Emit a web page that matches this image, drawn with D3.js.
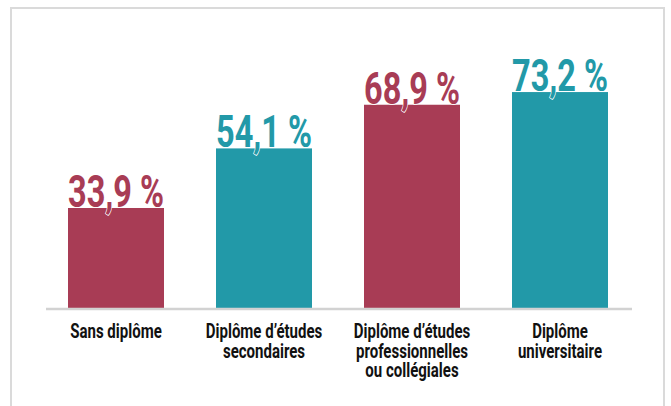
<!DOCTYPE html>
<html>
<head>
<meta charset="utf-8">
<script src="https://cdn.jsdelivr.net/npm/d3@7"></script>
<style>
  html, body { margin: 0; padding: 0; background: #fff; }
  svg { display: block; }
</style>
</head>
<body>
<svg id="chart" width="671" height="406"></svg>
<script>
const categories = [
  "Sans diplôme",
  "Diplôme d’études\nsecondaires",
  "Diplôme d’études\nprofessionnelles\nou collégiales",
  "Diplôme\nuniversitaire"
];
const values = [33.9, 54.1, 68.9, 73.2];
const valueLabels = ["33,9 %", "54,1 %", "68,9 %", "73,2 %"];
const barColors = ["#a83c55", "#2299a8", "#a83c55", "#2299a8"];

const svg = d3.select("#chart");
const W = 671, H = 406;

// frame
svg.append("rect")
  .attr("x", 11).attr("y", 8)
  .attr("width", 653).attr("height", 420)
  .attr("fill", "#fff")
  .attr("stroke", "#dadada").attr("stroke-width", 2);

const step = 148, bw = 96;
const pInner = (step - bw) / step;
const x = d3.scaleBand()
  .domain(categories)
  .range([68 - (step - bw) / 2, 608 + (step - bw) / 2])
  .paddingInner(pInner)
  .paddingOuter(pInner / 2);

const y = d3.scaleLinear().domain([0, 100]).range([308, 13]);

// bars
svg.append("g").selectAll("rect")
  .data(values)
  .join("rect")
  .attr("x", (d, i) => x(categories[i]))
  .attr("y", d => y(d))
  .attr("width", x.bandwidth())
  .attr("height", d => y(0) - y(d))
  .attr("fill", (d, i) => barColors[i]);

// baseline
svg.append("line")
  .attr("x1", 46).attr("x2", 632)
  .attr("y1", y(0) + 1).attr("y2", y(0) + 1)
  .attr("stroke", "#d2d2d2").attr("stroke-width", 2.5);

// value labels
svg.append("g").selectAll("text")
  .data(values)
  .join("text")
  .attr("x", (d, i) => x(categories[i]))
  .attr("y", d => y(d) - 1)
  .attr("textLength", x.bandwidth())
  .attr("lengthAdjust", "spacingAndGlyphs")
  .attr("font-family", "Roboto, 'DejaVu Sans Condensed', sans-serif")
  .attr("font-weight", 700)
  .attr("font-size", 44)
  .attr("fill", (d, i) => barColors[i])
  .attr("stroke", "#fff")
  .attr("stroke-width", 1.6)
  .attr("paint-order", "stroke")
  .text((d, i) => valueLabels[i]);

// category labels
const sx = 0.77;
const catG = svg.append("g");
categories.forEach((c, i) => {
  const cx = x(c) + x.bandwidth() / 2;
  const g = catG.append("g")
    .attr("transform", `translate(${cx},338) scale(${sx},1)`);
  c.split("\n").forEach((line, j) => {
    g.append("text")
      .attr("x", 0)
      .attr("y", j * 19.6)
      .attr("text-anchor", "middle")
      .attr("font-family", "Roboto, 'DejaVu Sans Condensed', sans-serif")
      .attr("font-weight", 700)
      .attr("font-size", 19.5)
      .attr("fill", "#111")
      .text(line);
  });
});
</script>
</body>
</html>
